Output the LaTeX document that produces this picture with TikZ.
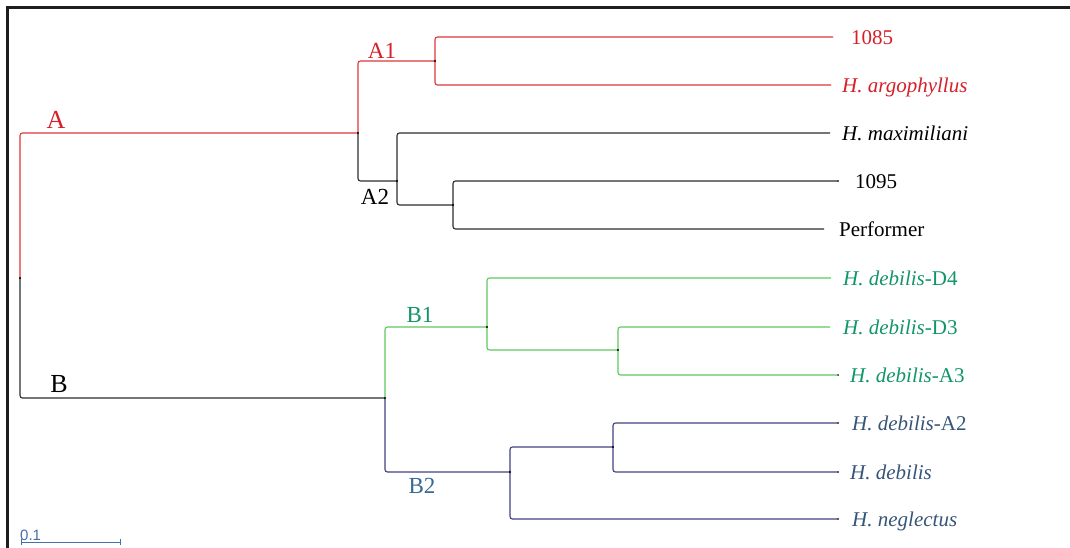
\documentclass[tikz,border=0pt]{standalone}
\usepackage{fontspec}
\setmainfont{Liberation Serif}
\newfontfamily\scalefont{Liberation Sans}
\definecolor{tred}{RGB}{222,55,55}
\definecolor{ttred}{RGB}{214,32,42}
\definecolor{tblack}{RGB}{45,45,45}
\definecolor{tgreen}{RGB}{95,200,95}
\definecolor{ttgreen}{RGB}{18,150,105}
\definecolor{tblue}{RGB}{65,65,130}
\definecolor{ttblue}{RGB}{55,85,120}
\definecolor{lblue}{RGB}{55,105,145}
\definecolor{sblue}{RGB}{70,110,170}
\definecolor{frame}{RGB}{30,30,30}
\begin{document}
\begin{tikzpicture}[x=1pt,y=-1pt,
  br/.style={line width=1.1pt, rounded corners=2.5pt},
  leaf/.style={anchor=base west, inner sep=0pt, font=\fontsize{21}{24}\selectfont},
  clab/.style={inner sep=0pt, font=\fontsize{23}{25}\selectfont},
  blab/.style={inner sep=0pt, font=\fontsize{26}{28}\selectfont},
  ndot/.style={circle, fill=black, inner sep=0pt, minimum size=2.4pt}]
\useasboundingbox (0,0) rectangle (1070,547);
\fill[white] (0,0) rectangle (1070,547);
% frame (top and left only)
\draw[frame, line width=3pt] (7.5,548) -- (7.5,7.5) -- (1071,7.5);

% internal nodes
\coordinate (root) at (20,278);
\coordinate (nA) at (358,133);
\coordinate (nA1) at (435,61);
\coordinate (nA2) at (397,181);
\coordinate (nA2b) at (453,205);
\coordinate (nB) at (385,398);
\coordinate (nB1) at (487,327);
\coordinate (nB1b) at (618,350);
\coordinate (nB2) at (510,472);
\coordinate (nB2b) at (613,447);

% leaf tips
\coordinate (t1085) at (833,37);
\coordinate (targo) at (831,85);
\coordinate (tmaxi) at (830,133);
\coordinate (t1095) at (838,181);
\coordinate (tperf) at (824,229);
\coordinate (tD4) at (831,278);
\coordinate (tD3) at (830,327);
\coordinate (tA3) at (838,375);
\coordinate (tA2) at (838,423);
\coordinate (tdeb) at (838,472);
\coordinate (tneg) at (838,519);

% leaf labels
\node[leaf, text=ttred] (l1085) at (851,44) {1085};
\node[leaf, text=ttred] (largo) at (842,92) {\textit{H. argophyllus}};
\node[leaf, text=black] (lmaxi) at (842,140) {\textit{H. maximiliani}};
\node[leaf, text=black] (l1095) at (855,188) {1095};
\node[leaf, text=black] (lperf) at (839,236) {Performer};
\node[leaf, text=ttgreen] (lD4) at (843,285) {\textit{H. debilis}-D4};
\node[leaf, text=ttgreen] (lD3) at (843,334) {\textit{H. debilis}-D3};
\node[leaf, text=ttgreen] (lA3) at (850,382) {\textit{H. debilis}-A3};
\node[leaf, text=ttblue] (lA2) at (852,430) {\textit{H. debilis}-A2};
\node[leaf, text=ttblue] (ldeb) at (850,479) {\textit{H. debilis}};
\node[leaf, text=ttblue] (lneg) at (852,526) {\textit{H. neglectus}};

% branches
\draw[br, tred] (root) |- (nA);
\draw[br, tblack] (root) |- (nB);
\draw[br, tred] (nA) |- (nA1);
\draw[br, tblack] (nA) |- (nA2);
\draw[br, tred] (nA1) |- (t1085);
\draw[br, tred] (nA1) |- (targo);
\draw[br, tblack] (nA2) |- (tmaxi);
\draw[br, tblack] (nA2) |- (nA2b);
\draw[br, tblack] (nA2b) |- (t1095);
\draw[br, tblack] (nA2b) |- (tperf);
\draw[br, tgreen] (nB) |- (nB1);
\draw[br, tblue] (nB) |- (nB2);
\draw[br, tgreen] (nB1) |- (tD4);
\draw[br, tgreen] (nB1) |- (nB1b);
\draw[br, tgreen] (nB1b) |- (tD3);
\draw[br, tgreen] (nB1b) |- (tA3);
\draw[br, tblue] (nB2) |- (nB2b);
\draw[br, tblue] (nB2) |- (tneg);
\draw[br, tblue] (nB2b) |- (tA2);
\draw[br, tblue] (nB2b) |- (tdeb);

% node dots
\foreach \n in {root,nA,nA1,nA2,nA2b,nB,nB1,nB1b,nB2,nB2b}
  \node[ndot] at (\n) {};
\foreach \n in {t1095,tA3,tA2,tdeb,tneg}
  \node[circle, fill=tblack, inner sep=0pt, minimum size=2pt] at (\n) {};

% clade labels
\node[blab, text=ttred] (labA) at (56,120) {A};
\node[clab, text=ttred] (labA1) at (382,51) {A1};
\node[clab, text=black] (labA2) at (375,197) {A2};
\node[blab, text=black] (labB) at (59,384) {B};
\node[clab, text=ttgreen] (labB1) at (420,315) {B1};
\node[clab, text=lblue] (labB2) at (422,486) {B2};

% scale bar
\coordinate (s0) at (21,542);
\coordinate (s1) at (120,542);
\draw[sblue, line width=1pt] (s0) -- (s1);
\draw[sblue, line width=0.7pt] (s0) ++(0,-3) -- ++(0,6);
\draw[sblue, line width=0.7pt] (s1) ++(0,-3) -- ++(0,6);
\node[anchor=base west, inner sep=0pt, text=sblue, font=\scalefont\fontsize{15}{17}\selectfont] (scl) at (20,540) {0.1};
\end{tikzpicture}
\end{document}
